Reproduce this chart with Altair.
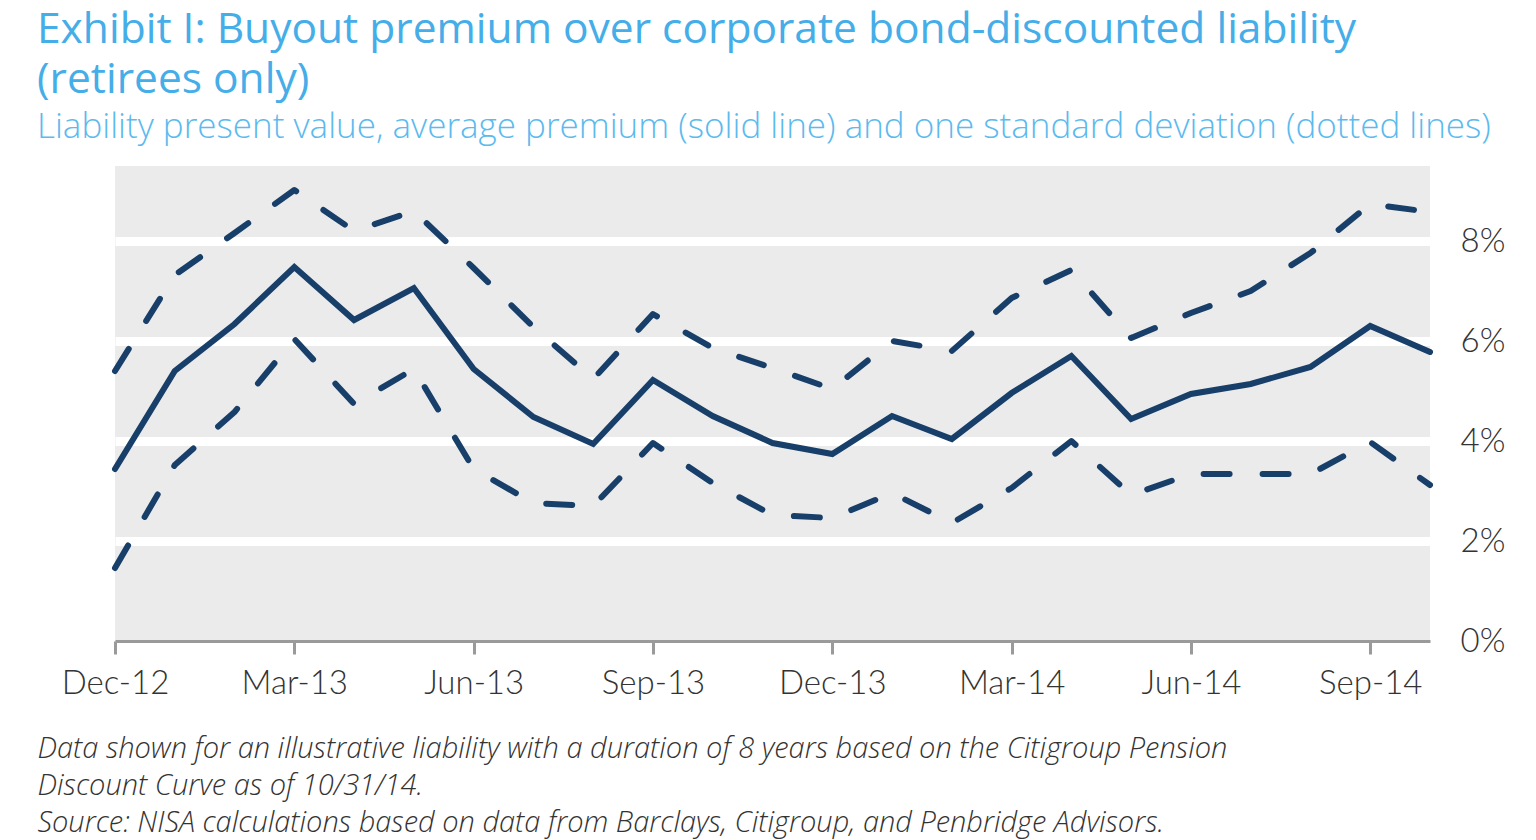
import altair as alt
import pandas as pd

months = ["Dec-12", "Jan-13", "Feb-13", "Mar-13", "Apr-13", "May-13", "Jun-13", "Jul-13",
          "Aug-13", "Sep-13", "Oct-13", "Nov-13", "Dec-13", "Jan-14", "Feb-14", "Mar-14",
          "Apr-14", "May-14", "Jun-14", "Jul-14", "Aug-14", "Sep-14", "Oct-14"]
mean_premium = [3.44, 5.40, 6.34, 7.48, 6.42, 7.06, 5.44, 4.48, 3.94, 5.22, 4.50, 3.96,
                3.74, 4.50, 4.04, 4.96, 5.70, 4.44, 4.94, 5.14, 5.48, 6.30, 5.78]
upper_sd = [5.40, 7.32, 8.16, 9.02, 8.20, 8.60, 7.46, 6.28, 5.24, 6.54, 5.86, 5.46,
            5.04, 6.00, 5.80, 6.86, 7.42, 6.06, 6.56, 7.00, 7.76, 8.74, 8.58]
lower_sd = [1.46, 3.52, 4.58, 6.04, 4.74, 5.44, 3.44, 2.76, 2.70, 3.96, 3.16, 2.52,
            2.46, 2.96, 2.36, 3.06, 4.00, 2.92, 3.34, 3.34, 3.34, 3.98, 3.12]
x_tick_labels = ["Dec-12", "Mar-13", "Jun-13", "Sep-13", "Dec-13", "Mar-14", "Jun-14", "Sep-14"]
y_ticks = [0, 2, 4, 6, 8]

title_lines = ["Exhibit I: Buyout premium over corporate bond-discounted liability",
               "(retirees only)"]
subtitle = "Liability present value, average premium (solid line) and one standard deviation (dotted lines)"
footer = ["Data shown for an illustrative liability with a duration of 8 years based on the Citigroup Pension",
          "Discount Curve as of 10/31/14.",
          "Source: NISA calculations based on data from Barclays, Citigroup, and Penbridge Advisors."]

mean_df = pd.DataFrame({"month": months, "value": mean_premium})
band_df = pd.concat([
    pd.DataFrame({"month": months, "value": upper_sd, "series": "upper"}),
    pd.DataFrame({"month": months, "value": lower_sd, "series": "lower"}),
])

FONT = "Lato"
TFONT = "Open Sans"
NAVY = "#173F69"

x_enc = alt.X(
    "month:O", sort=months,
    scale=alt.Scale(type="point", padding=0),
    axis=alt.Axis(
        values=x_tick_labels, labelAngle=0, labelFontSize=33, labelFont=FONT,
        labelFontWeight=300, labelColor="#333333", labelPadding=13,
        domainColor="#9a9a9a", domainWidth=3, tickColor="#9a9a9a", tickWidth=3,
        tickSize=13, grid=False,
        title=footer, titleFont=TFONT, titleFontStyle="italic", titleFontWeight=300,
        titleFontSize=29, titleColor="#333333", titleAnchor="start", titleAlign="left",
        titleBaseline="top", titleX=-78, titleY=93, titleLineHeight=37,
    ),
)
y_enc = alt.Y(
    "value:Q",
    scale=alt.Scale(domain=[0, 9.5], nice=False, zero=True),
    axis=alt.Axis(
        orient="right", values=y_ticks, labelExpr="datum.value + '%'",
        labelFontSize=33, labelFont=FONT, labelFontWeight=300, labelColor="#333333",
        labelPadding=30, domain=False, ticks=False, grid=True, gridColor="white",
        gridWidth=9,
        gridOpacity={"condition": {"test": "datum.value === 0", "value": 0}, "value": 1},
        title=None,
    ),
)

mean_line = alt.Chart(mean_df).mark_line(
    color=NAVY, strokeWidth=6, strokeJoin="miter", strokeCap="round"
).encode(x=x_enc, y=y_enc)

band_lines = alt.Chart(band_df).mark_line(
    color=NAVY, strokeWidth=6, strokeDash=[26, 33], strokeCap="round", strokeJoin="round"
).encode(x=x_enc, y=y_enc, detail="series:N")

chart = alt.layer(band_lines, mean_line).properties(
    width=1315, height=475,
    autosize=alt.AutoSizeParams(type="none"),
    padding={"left": 107, "top": 158, "right": 98, "bottom": 199},
    title=alt.TitleParams(
        text=title_lines, subtitle=subtitle, anchor="start", frame="group",
        orient="top", dx=-78, offset=21,
        font=TFONT, fontSize=42.5, fontWeight=400, color="#45ADE8", lineHeight=50,
        subtitleFont=TFONT, subtitleFontSize=35, subtitleFontWeight=300,
        subtitleColor="#5BBAEE", subtitlePadding=9,
    ),
).configure(background="white").configure_view(fill="#EBEBEB", stroke=None)

chart.save("out.html", embed_options={"renderer": "svg", "actions": False})
